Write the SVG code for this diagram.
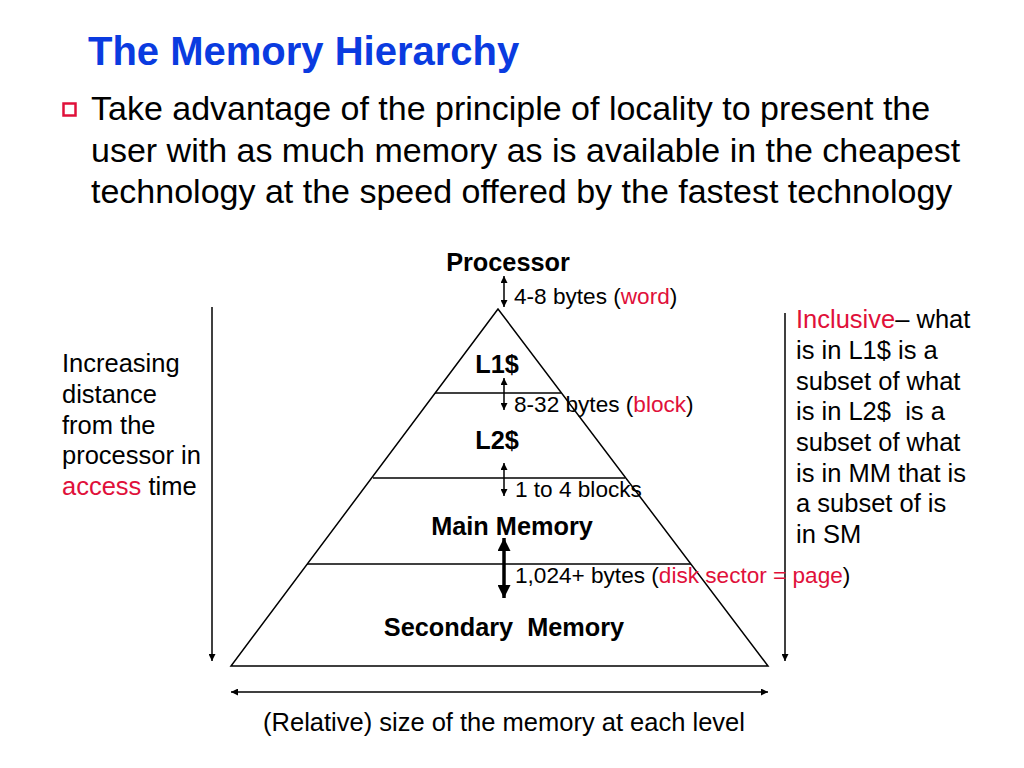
<svg xmlns="http://www.w3.org/2000/svg" width="1024" height="768" viewBox="0 0 1024 768">
<style>
text{font-family:"Liberation Sans",Arial,sans-serif;fill:#000}
.title{font-size:40px;font-weight:bold;fill:#0a3be0}
.body{font-size:34px}
.lbl{font-size:25.3px;font-weight:bold}
.sm{font-size:22.6px}
.side{font-size:25.5px}
.red{fill:#e0103a}
.ln{stroke:#000;stroke-width:1.5;fill:none}
</style>
<defs>
<marker id="ah" viewBox="0 0 10 10" refX="10" refY="5" markerWidth="8" markerHeight="7" markerUnits="userSpaceOnUse" orient="auto-start-reverse"><path d="M0,0 L10,5 L0,10 z" fill="#000"/></marker>
<marker id="ahb" viewBox="0 0 10 10" refX="10" refY="5" markerWidth="13" markerHeight="13" markerUnits="userSpaceOnUse" orient="auto-start-reverse"><path d="M0,0 L10,5 L0,10 z" fill="#000"/></marker>
</defs>
<rect width="1024" height="768" fill="#fff"/>
<text class="title" x="88" y="65">The Memory Hierarchy</text>
<rect x="63.5" y="103.5" width="12" height="12" fill="none" stroke="#e0103a" stroke-width="2.5"/>
<text class="body" x="91" y="120">Take advantage of the principle of locality to present the</text>
<text class="body" x="91" y="162">user with as much memory as is available in the cheapest</text>
<text class="body" x="91" y="203">technology at the speed offered by the fastest technology</text>
<g id="pyramid">
<path class="ln" d="M498,309 L231,666 L768,666 Z"/>
<line class="ln" x1="435" y1="393" x2="561" y2="393"/>
<line class="ln" x1="373" y1="478" x2="625" y2="478"/>
<line class="ln" x1="307" y1="564" x2="691" y2="564"/>
</g>
<g id="processor"><text class="lbl" x="508" y="271" text-anchor="middle">Processor</text></g>
<g id="l1"><text class="lbl" x="497" y="373" text-anchor="middle">L1$</text></g>
<g id="l2"><text class="lbl" x="497" y="449" text-anchor="middle">L2$</text></g>
<g id="mm"><text class="lbl" x="512" y="535" text-anchor="middle">Main Memory</text></g>
<g id="sm"><text class="lbl" x="504" y="636" text-anchor="middle" xml:space="preserve">Secondary  Memory</text></g>
<g id="connectors">
<line class="ln" x1="504" y1="276" x2="504" y2="307" marker-start="url(#ah)" marker-end="url(#ah)"/>
<line class="ln" x1="504" y1="378" x2="504" y2="410" marker-start="url(#ah)" marker-end="url(#ah)"/>
<line class="ln" x1="504" y1="463" x2="504" y2="496" marker-start="url(#ah)" marker-end="url(#ah)"/>
<line x1="504" y1="538" x2="504" y2="598" stroke="#000" stroke-width="3.5" marker-start="url(#ahb)" marker-end="url(#ahb)"/>
<line class="ln" x1="212" y1="307" x2="212" y2="661" marker-end="url(#ah)"/>
<line class="ln" x1="785" y1="313" x2="785" y2="661" marker-end="url(#ah)"/>
<line class="ln" x1="231" y1="692" x2="768" y2="692" marker-start="url(#ah)" marker-end="url(#ah)"/>
</g>
<text class="sm" x="514" y="304">4-8 bytes (<tspan class="red">word</tspan>)</text>
<text class="sm" x="514" y="412">8-32 bytes (<tspan class="red">block</tspan>)</text>
<text class="sm" x="515" y="497">1 to 4 blocks</text>
<text class="sm" x="515" y="583">1,024+ bytes (<tspan class="red">disk sector = page</tspan>)</text>
<text class="side" x="62" y="372">Increasing</text>
<text class="side" x="62" y="403">distance</text>
<text class="side" x="62" y="434">from the</text>
<text class="side" x="62" y="464">processor in</text>
<text class="side" x="62" y="495"><tspan class="red">access</tspan> time</text>
<text class="side" x="796" y="328"><tspan class="red">Inclusive</tspan>– what</text>
<text class="side" x="796" y="359">is in L1$ is a</text>
<text class="side" x="796" y="390">subset of what</text>
<text class="side" x="796" y="420" xml:space="preserve">is in L2$  is a</text>
<text class="side" x="796" y="451">subset of what</text>
<text class="side" x="796" y="482">is in MM that is</text>
<text class="side" x="796" y="512">a subset of is</text>
<text class="side" x="796" y="543">in SM</text>
<text class="side" x="504" y="731" text-anchor="middle">(Relative) size of the memory at each level</text>
</svg>
